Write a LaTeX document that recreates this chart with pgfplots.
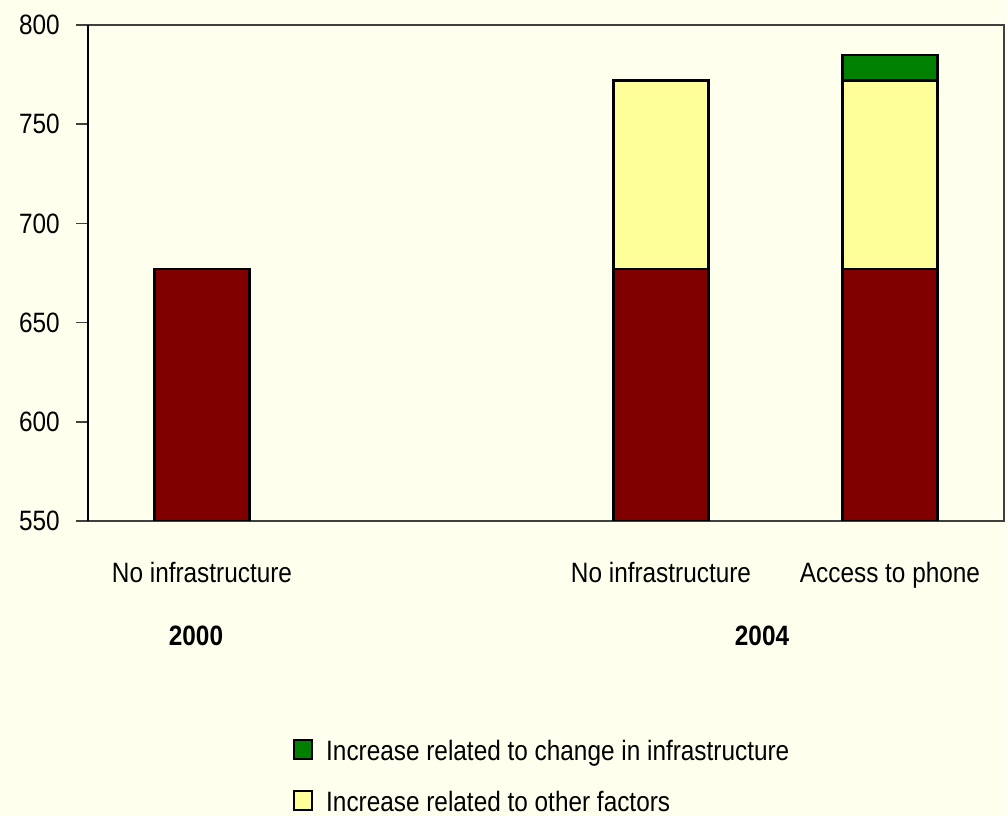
\documentclass[border=0pt]{standalone}
\usepackage{fontspec}
\setmainfont{Liberation Sans}[FakeStretch=0.87]
\usepackage{pgfplots}
\pgfplotsset{compat=1.18}
\definecolor{bgc}{RGB}{255,255,238}
\definecolor{maroonc}{RGB}{128,0,0}
\definecolor{ylw}{RGB}{255,255,153}
\definecolor{grn}{RGB}{0,128,0}
\definecolor{axgray}{RGB}{64,64,64}
\begin{document}
\fontsize{28bp}{34bp}\selectfont
\begin{tikzpicture}
\path[use as bounding box] (0,0) rectangle (1007bp,816bp);
\fill[bgc] (0,0) rectangle (1007bp,816bp);
\clip (0,0) rectangle (1007bp,816bp);
\begin{axis}[
  at={(88bp,295bp)}, anchor=south west,
  scale only axis, width=916bp, height=496bp,
  xmin=88, xmax=1004, ymin=550, ymax=800,
  ybar stacked, bar width=95,
  clip mode=individual,
  ytick={550,600,650,700,750,800},
  xtick={202,661,890},
  xticklabels={No infrastructure, No infrastructure, Access to phone},
  ytick pos=left, xtick pos=bottom,
  tick align=outside,
  major tick length=12bp,
  ytick style={draw=axgray, line width=1.5bp},
  xtick style={draw=none},
  axis line style={draw=axgray, line width=1.8bp},
  /pgf/number format/assume math mode=true,
  yticklabel style={anchor=east, inner sep=0pt, xshift=-16bp},
  xticklabel style={anchor=base, inner sep=0pt, yshift=-49bp},
  reverse legend,
  legend style={at={(0.2238,-0.440)}, anchor=north west, draw=none, fill=none,
    inner sep=0pt, /tikz/row sep=28bp, /tikz/column sep=13bp,
    nodes={inner sep=0pt, text height=20bp, text depth=2bp}},
  legend cell align=left,
]
\addplot[fill=maroonc, draw=black, line width=2.2bp, forget plot]
  coordinates {(202,677) (661,677) (890,677)};
\addplot[fill=ylw, draw=black, line width=2.2bp,
  legend image code/.code={\draw[fill=ylw, draw=black, line width=2bp] (0bp,-8bp) rectangle (18bp,11bp);}]
  coordinates {(202,0) (661,95) (890,95)};
\addlegendentry{Increase related to other factors}
\addplot[fill=grn, draw=black, line width=2.2bp,
  legend image code/.code={\draw[fill=grn, draw=black, line width=2bp] (0bp,-8bp) rectangle (18bp,11bp);}]
  coordinates {(202,0) (661,0) (890,13)};
\addlegendentry{Increase related to change in infrastructure}
\draw[black, line width=2.2bp] (rel axis cs:0,0) -- (rel axis cs:0,1);
\node[anchor=base, font=\bfseries, inner sep=0pt] at (axis cs:196,550) [yshift=-124bp] {2000};
\node[anchor=base, font=\bfseries, inner sep=0pt] at (axis cs:762,550) [yshift=-124bp] {2004};
\end{axis}
\end{tikzpicture}
\end{document}
